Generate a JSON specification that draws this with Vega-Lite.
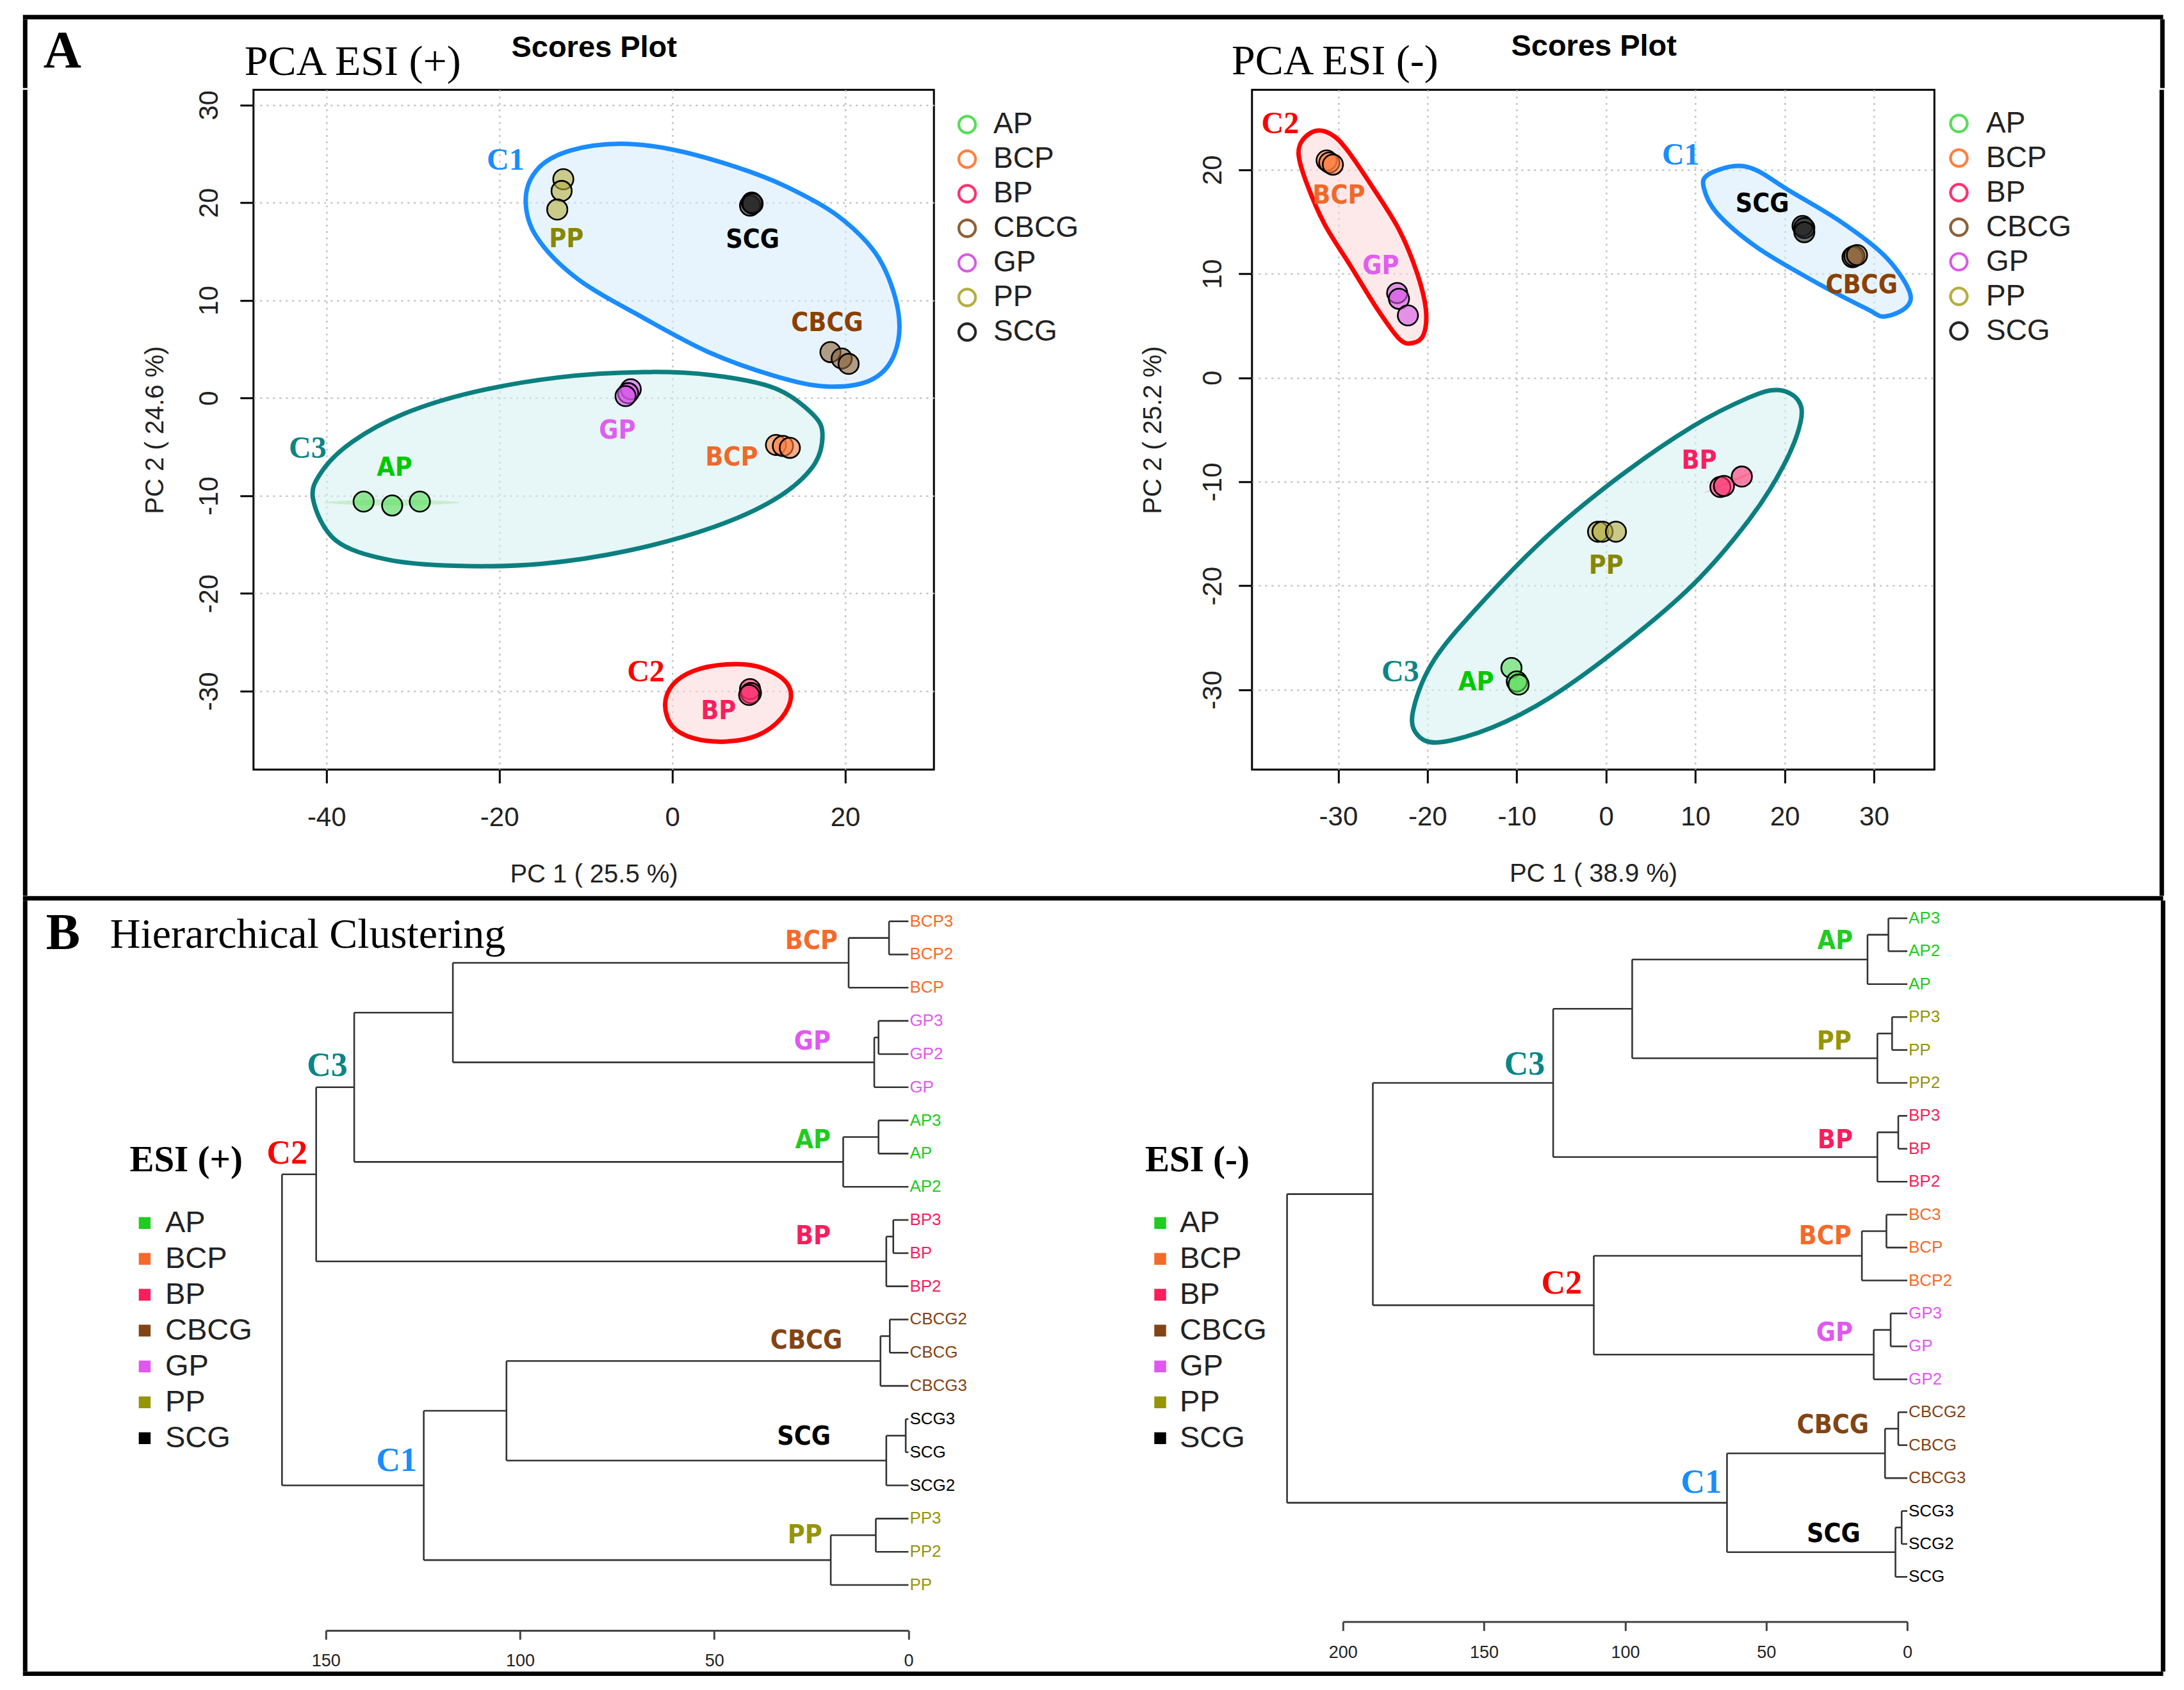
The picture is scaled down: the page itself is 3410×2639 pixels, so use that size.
{
"$schema": "https://vega.github.io/schema/vega-lite/v6.json",
"background": "white",
"padding": {"left": 35.8, "top": 23.3, "right": 0, "bottom": 0},
"spacing": 0,
"resolve": {"scale": {"color": "independent", "fill": "independent", "stroke": "independent"}},
"config": {"view": {"stroke": null}, "font": "Liberation Sans", "axis": {"labelFont": "Liberation Sans", "titleFont": "Liberation Sans"}, "legend": {"labelFont": "Liberation Sans", "titleFont": "Liberation Serif"}, "title": {"font": "Liberation Serif", "color": "black"}},
"datasets": {
"pp_pts": [{"g":"AP","x":-35.7,"y":-10.6},{"g":"AP","x":-32.4,"y":-11.0},{"g":"AP","x":-29.2,"y":-10.6},{"g":"BCP","x":12.0,"y":-4.8},{"g":"BCP","x":12.8,"y":-4.9},{"g":"BCP","x":13.6,"y":-5.1},{"g":"BP","x":9.0,"y":-29.8},{"g":"BP","x":9.1,"y":-30.2},{"g":"BP","x":8.9,"y":-30.4},{"g":"CBCG","x":18.3,"y":4.7},{"g":"CBCG","x":19.6,"y":4.05},{"g":"CBCG","x":20.4,"y":3.5},{"g":"GP","x":-4.8,"y":0.9},{"g":"GP","x":-5.1,"y":0.5},{"g":"GP","x":-5.4,"y":0.2},{"g":"PP","x":-12.6,"y":22.4},{"g":"PP","x":-12.8,"y":21.2},{"g":"PP","x":-13.3,"y":19.3},{"g":"SCG","x":9.0,"y":19.7},{"g":"SCG","x":9.2,"y":20.0},{"g":"SCG","x":9.3,"y":19.9}],
"pp_grp": [{"t":"PP","x":-12.25,"y":16.22},{"t":"SCG","x":9.3,"y":16.16},{"t":"CBCG","x":17.92,"y":7.67},{"t":"GP","x":-6.35,"y":-3.37},{"t":"BCP","x":6.87,"y":-6.11},{"t":"AP","x":-32.13,"y":-7.2},{"t":"BP","x":5.35,"y":-32.1}],
"pp_clu": [{"t":"C1","x":-19.28,"y":24.3},{"t":"C3","x":-42.17,"y":-5.21},{"t":"C2","x":-3.05,"y":-28.1}],
"pp_e1": [{"x":-6.05,"y":26.03},{"x":0.0,"y":25.44},{"x":7.24,"y":23.69},{"x":13.3,"y":21.6},{"x":19.34,"y":18.52},{"x":23.87,"y":14.35},{"x":26.14,"y":8.87},{"x":25.69,"y":4.47},{"x":22.97,"y":1.84},{"x":17.83,"y":1.18},{"x":11.79,"y":2.28},{"x":4.22,"y":4.69},{"x":-3.33,"y":8.21},{"x":-10.9,"y":12.16},{"x":-15.73,"y":16.55},{"x":-16.94,"y":20.5},{"x":-15.43,"y":23.58},{"x":-11.8,"y":25.34}],
"pp_e3": [{"x":-41.54,"y":-10.39},{"x":-40.55,"y":-7.53},{"x":-36.98,"y":-4.47},{"x":-31.02,"y":-1.61},{"x":-23.09,"y":0.58},{"x":-13.17,"y":2.11},{"x":-3.25,"y":2.66},{"x":4.68,"y":2.33},{"x":11.82,"y":1.02},{"x":16.19,"y":-1.61},{"x":17.38,"y":-3.81},{"x":16.19,"y":-7.1},{"x":11.82,"y":-10.39},{"x":4.68,"y":-13.24},{"x":-5.24,"y":-15.65},{"x":-15.16,"y":-16.97},{"x":-25.07,"y":-17.18},{"x":-33.0,"y":-16.53},{"x":-38.96,"y":-14.55}],
"pp_e2": [{"x":-0.83,"y":-31.44},{"x":0.04,"y":-29.36},{"x":2.5,"y":-27.93},{"x":6.21,"y":-27.27},{"x":9.91,"y":-27.49},{"x":12.87,"y":-28.81},{"x":13.74,"y":-30.56},{"x":12.63,"y":-32.76},{"x":9.91,"y":-34.51},{"x":6.21,"y":-35.17},{"x":2.5,"y":-34.84},{"x":0.04,"y":-33.63}],
"pp_ap": [{"x":-40.3,"y":-10.7},{"x":-36.3,"y":-10.45},{"x":-32.4,"y":-10.37},{"x":-28.5,"y":-10.45},{"x":-24.5,"y":-10.7},{"x":-28.5,"y":-10.95},{"x":-32.4,"y":-11.03},{"x":-36.3,"y":-10.95}],
"pm_pts": [{"g":"AP","x":-10.6,"y":-27.9},{"g":"AP","x":-10.0,"y":-29.2},{"g":"AP","x":-9.8,"y":-29.5},{"g":"BCP","x":-31.3,"y":20.9},{"g":"BCP","x":-31.0,"y":20.7},{"g":"BCP","x":-30.6,"y":20.5},{"g":"BP","x":12.8,"y":-10.5},{"g":"BP","x":13.2,"y":-10.4},{"g":"BP","x":15.2,"y":-9.5},{"g":"CBCG","x":27.6,"y":11.6},{"g":"CBCG","x":27.8,"y":11.7},{"g":"CBCG","x":28.1,"y":11.8},{"g":"GP","x":-23.4,"y":8.15},{"g":"GP","x":-23.2,"y":7.6},{"g":"GP","x":-22.2,"y":6.0},{"g":"PP","x":-0.9,"y":-14.8},{"g":"PP","x":-0.4,"y":-14.8},{"g":"PP","x":1.1,"y":-14.8},{"g":"SCG","x":22.0,"y":14.6},{"g":"SCG","x":22.2,"y":14.4},{"g":"SCG","x":22.2,"y":14.0}],
"pm_grp": [{"t":"BCP","x":-29.93,"y":17.49},{"t":"GP","x":-25.24,"y":10.72},{"t":"SCG","x":17.5,"y":16.66},{"t":"CBCG","x":28.62,"y":8.87},{"t":"BP","x":10.42,"y":-8.0},{"t":"PP","x":0.0,"y":-18.12},{"t":"AP","x":-14.56,"y":-29.29}],
"pm_clu": [{"t":"C2","x":-36.5,"y":24.36},{"t":"C1","x":8.36,"y":21.38},{"t":"C3","x":-23.05,"y":-28.35}],
"pm_e2": [{"x":-32.55,"y":23.74},{"x":-34.03,"y":22.82},{"x":-34.43,"y":21.38},{"x":-33.54,"y":18.72},{"x":-31.56,"y":14.82},{"x":-28.59,"y":10.72},{"x":-25.63,"y":6.62},{"x":-23.16,"y":3.74},{"x":-21.68,"y":3.34},{"x":-20.44,"y":4.15},{"x":-20.19,"y":6.62},{"x":-21.18,"y":10.1},{"x":-23.16,"y":14.2},{"x":-26.13,"y":18.3},{"x":-29.09,"y":22.0},{"x":-30.82,"y":23.43}],
"pm_e1": [{"x":14.39,"y":20.36},{"x":11.43,"y":19.54},{"x":10.93,"y":18.31},{"x":12.41,"y":15.85},{"x":16.86,"y":12.57},{"x":23.28,"y":9.28},{"x":29.21,"y":6.62},{"x":31.18,"y":5.9},{"x":33.66,"y":6.82},{"x":33.9,"y":8.46},{"x":31.18,"y":11.74},{"x":26.25,"y":15.03},{"x":20.32,"y":18.1},{"x":16.86,"y":19.95}],
"pm_e3": [{"x":19.23,"y":-1.18},{"x":21.47,"y":-2.12},{"x":21.79,"y":-4.24},{"x":19.86,"y":-8.47},{"x":16.02,"y":-13.65},{"x":9.62,"y":-19.99},{"x":1.61,"y":-25.87},{"x":-6.39,"y":-30.81},{"x":-12.8,"y":-33.64},{"x":-18.57,"y":-35.05},{"x":-21.13,"y":-34.34},{"x":-21.61,"y":-31.99},{"x":-19.2,"y":-27.05},{"x":-13.44,"y":-21.17},{"x":-6.39,"y":-15.06},{"x":1.61,"y":-9.42},{"x":9.62,"y":-4.71},{"x":16.02,"y":-1.89}],
"pm_bp": [{"x":10.9,"y":-11.1},{"x":13.8,"y":-9.9},{"x":16.8,"y":-8.95},{"x":13.9,"y":-10.15}],
"dl_seg": [{"x":5,"x2":5,"y":0,"y2":1},{"x":0,"x2":5,"y":0,"y2":0},{"x":0,"x2":5,"y":1,"y2":1},{"x":15.4,"x2":15.4,"y":0.5,"y2":2},{"x":5,"x2":15.4,"y":0.5,"y2":0.5},{"x":0,"x2":15.4,"y":2,"y2":2},{"x":7.7,"x2":7.7,"y":3,"y2":4},{"x":0,"x2":7.7,"y":3,"y2":3},{"x":0,"x2":7.7,"y":4,"y2":4},{"x":8.8,"x2":8.8,"y":3.5,"y2":5},{"x":7.7,"x2":8.8,"y":3.5,"y2":3.5},{"x":0,"x2":8.8,"y":5,"y2":5},{"x":117.3,"x2":117.3,"y":1.25,"y2":4.25},{"x":15.4,"x2":117.3,"y":1.25,"y2":1.25},{"x":8.8,"x2":117.3,"y":4.25,"y2":4.25},{"x":7.7,"x2":7.7,"y":6,"y2":7},{"x":0,"x2":7.7,"y":6,"y2":6},{"x":0,"x2":7.7,"y":7,"y2":7},{"x":16.8,"x2":16.8,"y":6.5,"y2":8},{"x":7.7,"x2":16.8,"y":6.5,"y2":6.5},{"x":0,"x2":16.8,"y":8,"y2":8},{"x":142.7,"x2":142.7,"y":2.75,"y2":7.25},{"x":117.3,"x2":142.7,"y":2.75,"y2":2.75},{"x":16.8,"x2":142.7,"y":7.25,"y2":7.25},{"x":3.9,"x2":3.9,"y":9,"y2":10},{"x":0,"x2":3.9,"y":9,"y2":9},{"x":0,"x2":3.9,"y":10,"y2":10},{"x":5.7,"x2":5.7,"y":9.5,"y2":11},{"x":3.9,"x2":5.7,"y":9.5,"y2":9.5},{"x":0,"x2":5.7,"y":11,"y2":11},{"x":152.5,"x2":152.5,"y":5,"y2":10.25},{"x":142.7,"x2":152.5,"y":5,"y2":5},{"x":5.7,"x2":152.5,"y":10.25,"y2":10.25},{"x":4.8,"x2":4.8,"y":12,"y2":13},{"x":0,"x2":4.8,"y":12,"y2":12},{"x":0,"x2":4.8,"y":13,"y2":13},{"x":7.2,"x2":7.2,"y":12.5,"y2":14},{"x":4.8,"x2":7.2,"y":12.5,"y2":12.5},{"x":0,"x2":7.2,"y":14,"y2":14},{"x":0.7,"x2":0.7,"y":15,"y2":16},{"x":0,"x2":0.7,"y":15,"y2":15},{"x":0,"x2":0.7,"y":16,"y2":16},{"x":5.7,"x2":5.7,"y":15.5,"y2":17},{"x":0.7,"x2":5.7,"y":15.5,"y2":15.5},{"x":0,"x2":5.7,"y":17,"y2":17},{"x":103.5,"x2":103.5,"y":13.25,"y2":16.25},{"x":7.2,"x2":103.5,"y":13.25,"y2":13.25},{"x":5.7,"x2":103.5,"y":16.25,"y2":16.25},{"x":8.4,"x2":8.4,"y":18,"y2":19},{"x":0,"x2":8.4,"y":18,"y2":18},{"x":0,"x2":8.4,"y":19,"y2":19},{"x":20,"x2":20,"y":18.5,"y2":20},{"x":8.4,"x2":20,"y":18.5,"y2":18.5},{"x":0,"x2":20,"y":20,"y2":20},{"x":124.8,"x2":124.8,"y":14.75,"y2":19.25},{"x":103.5,"x2":124.8,"y":14.75,"y2":14.75},{"x":20,"x2":124.8,"y":19.25,"y2":19.25},{"x":161.3,"x2":161.3,"y":7.625,"y2":17},{"x":152.5,"x2":161.3,"y":7.625,"y2":7.625},{"x":124.8,"x2":161.3,"y":17,"y2":17}],
"dl_leaf": [{"leaf":"BCP3","g":"BCP","x":0,"y":0},{"leaf":"BCP2","g":"BCP","x":0,"y":1},{"leaf":"BCP","g":"BCP","x":0,"y":2},{"leaf":"GP3","g":"GP","x":0,"y":3},{"leaf":"GP2","g":"GP","x":0,"y":4},{"leaf":"GP","g":"GP","x":0,"y":5},{"leaf":"AP3","g":"AP","x":0,"y":6},{"leaf":"AP","g":"AP","x":0,"y":7},{"leaf":"AP2","g":"AP","x":0,"y":8},{"leaf":"BP3","g":"BP","x":0,"y":9},{"leaf":"BP","g":"BP","x":0,"y":10},{"leaf":"BP2","g":"BP","x":0,"y":11},{"leaf":"CBCG2","g":"CBCG","x":0,"y":12},{"leaf":"CBCG","g":"CBCG","x":0,"y":13},{"leaf":"CBCG3","g":"CBCG","x":0,"y":14},{"leaf":"SCG3","g":"SCG","x":0,"y":15},{"leaf":"SCG","g":"SCG","x":0,"y":16},{"leaf":"SCG2","g":"SCG","x":0,"y":17},{"leaf":"PP3","g":"PP","x":0,"y":18},{"leaf":"PP2","g":"PP","x":0,"y":19},{"leaf":"PP","g":"PP","x":0,"y":20}],
"dl_grp": [{"t":"BCP","x":18.2,"y":0.61},{"t":"GP","x":20.0,"y":3.63},{"t":"AP","x":20.0,"y":6.61},{"t":"BP","x":20.0,"y":9.5},{"t":"CBCG","x":17.0,"y":12.65},{"t":"SCG","x":20.0,"y":15.54},{"t":"PP","x":22.2,"y":18.52}],
"dl_clu": [{"t":"C3","x":149.65,"y":4.35},{"t":"C2","x":160.0,"y":7.0},{"t":"C1","x":131.8,"y":16.26}],
"dr_seg": [{"x":6.7,"x2":6.7,"y":0,"y2":1},{"x":0,"x2":6.7,"y":0,"y2":0},{"x":0,"x2":6.7,"y":1,"y2":1},{"x":14.1,"x2":14.1,"y":0.5,"y2":2},{"x":6.7,"x2":14.1,"y":0.5,"y2":0.5},{"x":0,"x2":14.1,"y":2,"y2":2},{"x":5.4,"x2":5.4,"y":3,"y2":4},{"x":0,"x2":5.4,"y":3,"y2":3},{"x":0,"x2":5.4,"y":4,"y2":4},{"x":10.6,"x2":10.6,"y":3.5,"y2":5},{"x":5.4,"x2":10.6,"y":3.5,"y2":3.5},{"x":0,"x2":10.6,"y":5,"y2":5},{"x":97.5,"x2":97.5,"y":1.25,"y2":4.25},{"x":14.1,"x2":97.5,"y":1.25,"y2":1.25},{"x":10.6,"x2":97.5,"y":4.25,"y2":4.25},{"x":3.2,"x2":3.2,"y":6,"y2":7},{"x":0,"x2":3.2,"y":6,"y2":6},{"x":0,"x2":3.2,"y":7,"y2":7},{"x":10.6,"x2":10.6,"y":6.5,"y2":8},{"x":3.2,"x2":10.6,"y":6.5,"y2":6.5},{"x":0,"x2":10.6,"y":8,"y2":8},{"x":125.5,"x2":125.5,"y":2.75,"y2":7.25},{"x":97.5,"x2":125.5,"y":2.75,"y2":2.75},{"x":10.6,"x2":125.5,"y":7.25,"y2":7.25},{"x":7.4,"x2":7.4,"y":9,"y2":10},{"x":0,"x2":7.4,"y":9,"y2":9},{"x":0,"x2":7.4,"y":10,"y2":10},{"x":16.1,"x2":16.1,"y":9.5,"y2":11},{"x":7.4,"x2":16.1,"y":9.5,"y2":9.5},{"x":0,"x2":16.1,"y":11,"y2":11},{"x":5.9,"x2":5.9,"y":12,"y2":13},{"x":0,"x2":5.9,"y":12,"y2":12},{"x":0,"x2":5.9,"y":13,"y2":13},{"x":11.9,"x2":11.9,"y":12.5,"y2":14},{"x":5.9,"x2":11.9,"y":12.5,"y2":12.5},{"x":0,"x2":11.9,"y":14,"y2":14},{"x":111.1,"x2":111.1,"y":10.25,"y2":13.25},{"x":16.1,"x2":111.1,"y":10.25,"y2":10.25},{"x":11.9,"x2":111.1,"y":13.25,"y2":13.25},{"x":189.4,"x2":189.4,"y":5,"y2":11.75},{"x":125.5,"x2":189.4,"y":5,"y2":5},{"x":111.1,"x2":189.4,"y":11.75,"y2":11.75},{"x":3.2,"x2":3.2,"y":15,"y2":16},{"x":0,"x2":3.2,"y":15,"y2":15},{"x":0,"x2":3.2,"y":16,"y2":16},{"x":7.9,"x2":7.9,"y":15.5,"y2":17},{"x":3.2,"x2":7.9,"y":15.5,"y2":15.5},{"x":0,"x2":7.9,"y":17,"y2":17},{"x":2.0,"x2":2.0,"y":18,"y2":19},{"x":0,"x2":2.0,"y":18,"y2":18},{"x":0,"x2":2.0,"y":19,"y2":19},{"x":4.2,"x2":4.2,"y":18.5,"y2":20},{"x":2.0,"x2":4.2,"y":18.5,"y2":18.5},{"x":0,"x2":4.2,"y":20,"y2":20},{"x":63.9,"x2":63.9,"y":16.25,"y2":19.25},{"x":7.9,"x2":63.9,"y":16.25,"y2":16.25},{"x":4.2,"x2":63.9,"y":19.25,"y2":19.25},{"x":219.8,"x2":219.8,"y":8.375,"y2":17.75},{"x":189.4,"x2":219.8,"y":8.375,"y2":8.375},{"x":63.9,"x2":219.8,"y":17.75,"y2":17.75}],
"dr_leaf": [{"leaf":"AP3","g":"AP","x":0,"y":0},{"leaf":"AP2","g":"AP","x":0,"y":1},{"leaf":"AP","g":"AP","x":0,"y":2},{"leaf":"PP3","g":"PP","x":0,"y":3},{"leaf":"PP","g":"PP","x":0,"y":4},{"leaf":"PP2","g":"PP","x":0,"y":5},{"leaf":"BP3","g":"BP","x":0,"y":6},{"leaf":"BP","g":"BP","x":0,"y":7},{"leaf":"BP2","g":"BP","x":0,"y":8},{"leaf":"BC3","g":"BCP","x":0,"y":9},{"leaf":"BCP","g":"BCP","x":0,"y":10},{"leaf":"BCP2","g":"BCP","x":0,"y":11},{"leaf":"GP3","g":"GP","x":0,"y":12},{"leaf":"GP","g":"GP","x":0,"y":13},{"leaf":"GP2","g":"GP","x":0,"y":14},{"leaf":"CBCG2","g":"CBCG","x":0,"y":15},{"leaf":"CBCG","g":"CBCG","x":0,"y":16},{"leaf":"CBCG3","g":"CBCG","x":0,"y":17},{"leaf":"SCG3","g":"SCG","x":0,"y":18},{"leaf":"SCG2","g":"SCG","x":0,"y":19},{"leaf":"SCG","g":"SCG","x":0,"y":20}],
"dr_grp": [{"t":"AP","x":19.3,"y":0.71},{"t":"PP","x":19.8,"y":3.75},{"t":"BP","x":19.3,"y":6.75},{"t":"BCP","x":19.8,"y":9.67},{"t":"GP","x":19.3,"y":12.61},{"t":"CBCG","x":13.6,"y":15.4},{"t":"SCG","x":16.6,"y":18.7}],
"dr_clu": [{"t":"C3","x":135.6,"y":4.43},{"t":"C2","x":122.5,"y":11.09},{"t":"C1","x":73.0,"y":17.13}]
},
"vconcat": [
{"width": 3341.7, "height": 7, "data": {"values": []}, "mark": {"type": "point", "size": 0, "opacity": 0}, "view": {"fill": "black", "stroke": null}},
{"spacing": 0, "bounds": "flush", "hconcat": [
 {"width": 7, "height": 107.2, "data": {"values": []}, "mark": {"type": "point", "size": 0, "opacity": 0}, "view": {"fill": "black", "stroke": null}},
 {"width": 352.9, "height": 1, "data": {"values": []}, "mark": {"type": "point", "size": 0, "opacity": 0}, "title": {"text": "A", "anchor": "start", "frame": "group", "orient": "top", "offset": -156.7, "dx": 25, "baseline": "alphabetic", "font": "Liberation Serif", "fontSize": 82, "fontWeight": "bold", "color": "black"}},
 {"width": 384.3, "height": 1, "data": {"values": []}, "mark": {"type": "point", "size": 0, "opacity": 0}, "title": {"text": "PCA ESI (+)", "anchor": "start", "frame": "group", "orient": "top", "offset": -153, "dx": -14, "baseline": "alphabetic", "font": "Liberation Serif", "fontSize": 66, "fontWeight": "normal", "color": "black"}},
 {"width": 293.8, "height": 1, "data": {"values": []}, "mark": {"type": "point", "size": 0, "opacity": 0}, "title": {"text": "Scores Plot", "anchor": "middle", "frame": "group", "orient": "top", "offset": -105.7, "baseline": "alphabetic", "font": "Liberation Sans", "fontSize": 47, "fontWeight": "bold", "color": "black"}},
 {"width": 384.3, "height": 1, "data": {"values": []}, "mark": {"type": "point", "size": 0, "opacity": 0}},
 {"width": 496, "height": 1, "data": {"values": []}, "mark": {"type": "point", "size": 0, "opacity": 0}},
 {"width": 445.9, "height": 1, "data": {"values": []}, "mark": {"type": "point", "size": 0, "opacity": 0}, "title": {"text": "PCA ESI (-)", "anchor": "start", "frame": "group", "orient": "top", "offset": -151.8, "dx": -32.7, "baseline": "alphabetic", "font": "Liberation Serif", "fontSize": 66, "fontWeight": "normal", "color": "black"}},
 {"width": 173.8, "height": 1, "data": {"values": []}, "mark": {"type": "point", "size": 0, "opacity": 0}, "title": {"text": "Scores Plot", "anchor": "middle", "frame": "group", "orient": "top", "offset": -103.3, "baseline": "alphabetic", "font": "Liberation Sans", "fontSize": 47, "fontWeight": "bold", "color": "black"}},
 {"width": 445.8, "height": 1, "data": {"values": []}, "mark": {"type": "point", "size": 0, "opacity": 0}},
 {"width": 350.9, "height": 1, "data": {"values": []}, "mark": {"type": "point", "size": 0, "opacity": 0}},
 {"width": 7, "height": 107.2, "data": {"values": []}, "mark": {"type": "point", "size": 0, "opacity": 0}, "view": {"fill": "black", "stroke": null}}
]},
{"spacing": 0, "bounds": "flush", "resolve": {"scale": {"color": "independent", "fill": "independent", "stroke": "independent"}}, "hconcat": [
 {"width": 7, "height": 1258.5, "data": {"values": []}, "mark": {"type": "point", "size": 0, "opacity": 0}, "view": {"fill": "black", "stroke": null}},
 {"width": 352.9, "height": 1, "data": {"values": []}, "mark": {"type": "point", "size": 0, "opacity": 0}},
 {"width": 1062.4, "height": 1061.5, "view": {"stroke": "black", "strokeWidth": 3},
  "encoding": {
   "x": {"field": "x", "type": "quantitative", "scale": {"domain": [-48.44, 30.27], "nice": false, "zero": false}, "axis": {"values": [-40,-20,0,20], "title": "PC 1 ( 25.5 %)", "domain": false, "grid": true, "gridColor": "#c4c4c4", "gridDash": [3,7], "gridWidth": 2.5, "ticks": true, "tickSize": 21, "tickWidth": 3, "tickColor": "black", "labels": true, "labelFontSize": 42, "labelColor": "#222222", "labelPadding": 34, "labelFlush": false, "labelOverlap": false, "labelExpr": "datum.value < 0 ? '-' + abs(datum.value) : '' + datum.value", "titleFontSize": 40, "titleFontWeight": "normal", "titleColor": "#222222", "titlePadding": 48}},
   "y": {"field": "y", "type": "quantitative", "scale": {"domain": [-38.04, 31.55], "nice": false, "zero": false}, "axis": {"values": [-30,-20,-10,0,10,20,30], "title": "PC 2 ( 24.6 %)", "domain": false, "grid": true, "gridColor": "#c4c4c4", "gridDash": [3,7], "gridWidth": 2.5, "ticks": true, "tickSize": 21, "tickWidth": 3, "tickColor": "black", "labels": true, "labelFontSize": 42, "labelColor": "#222222", "labelAngle": -90, "labelAlign": "center", "labelBaseline": "bottom", "labelPadding": 26, "labelFlush": false, "labelOverlap": false, "labelExpr": "datum.value < 0 ? '-' + abs(datum.value) : '' + datum.value", "titleFontSize": 40, "titleFontWeight": "normal", "titleColor": "#222222", "titlePadding": 43}}
  },
  "layer": [
   {"data": {"name": "pp_e3"}, "mark": {"type": "line", "interpolate": "cardinal-closed", "stroke": "#0b7f7f", "strokeWidth": 7, "fill": "#d4eeee", "fillOpacity": 0.55}, "encoding": {"order": {"value": null}}},
   {"data": {"name": "pp_e1"}, "mark": {"type": "line", "interpolate": "cardinal-closed", "stroke": "#1a8cff", "strokeWidth": 7, "fill": "#d6ebfb", "fillOpacity": 0.55}, "encoding": {"order": {"value": null}}},
   {"data": {"name": "pp_e2"}, "mark": {"type": "line", "interpolate": "cardinal-closed", "stroke": "#ff0000", "strokeWidth": 7, "fill": "#fbd7d7", "fillOpacity": 0.55}, "encoding": {"order": {"value": null}}},
   {"data": {"name": "pp_ap"}, "mark": {"type": "line", "interpolate": "cardinal-closed", "strokeWidth": 0, "stroke": "#b8ebb8", "fill": "#b8ebb8", "fillOpacity": 0.7}, "encoding": {"order": {"value": null}}},
   {"data": {"name": "pp_pts"}, "mark": {"type": "point", "shape": "circle", "filled": false, "size": 0, "opacity": 1, "strokeWidth": 0.8},
    "encoding": {"stroke": {"field": "g", "type": "nominal", "scale": {"domain": ["AP","BCP","BP","CBCG","GP","PP","SCG"], "range": ["#55dd55","#ff7f40","#ff3070","#8b6035","#ee77ee","#b5ad40","#333333"]}, "legend": {"title": null, "orient": "none", "legendX": 1091.3, "legendY": 31.2, "padding": 0, "symbolType": "M-1,0A1,1,0,1,1,1,0A1,1,0,1,1,-1,0ZM-0.76,0A0.76,0.76,0,1,0,0.76,0A0.76,0.76,0,1,0,-0.76,0Z", "symbolSize": 880, "symbolStrokeWidth": 0.8, "labelFontSize": 46, "labelColor": "#222222", "labelOffset": 18, "rowPadding": 8}}}},
   {"data": {"name": "pp_pts"}, "mark": {"type": "point", "shape": "circle", "filled": true, "size": 1000, "opacity": 1, "fillOpacity": 0.6, "stroke": "black", "strokeWidth": 2.6, "strokeOpacity": 1},
    "encoding": {"fill": {"field": "g", "type": "nominal", "scale": {"domain": ["AP","BCP","BP","CBCG","GP","PP","SCG"], "range": ["#55dd55","#ff7f40","#ff3070","#8b6035","#d455e6","#b5ad40","#222222"]}, "legend": null}}},
   {"data": {"name": "pp_grp"}, "mark": {"type": "text", "font": "Liberation Sans Narrow, DejaVu Sans Condensed, sans-serif", "fontSize": 41, "fontWeight": "bold", "align": "center", "baseline": "middle"},
    "encoding": {"text": {"field": "t"}, "color": {"field": "t", "type": "nominal", "scale": {"domain": ["AP","BCP","BP","CBCG","GP","PP","SCG","C1","C2","C3"], "range": ["#00c800","#f0692a","#fa1e5f","#8b4000","#df5ef0","#878700","#000000","#1a8cff","#ff0000","#0b8585"]}, "legend": null}}},
   {"data": {"name": "pp_clu"}, "mark": {"type": "text", "font": "Liberation Serif", "fontSize": 48, "fontWeight": "bold", "align": "center", "baseline": "middle"},
    "encoding": {"text": {"field": "t"}, "color": {"field": "t", "type": "nominal", "scale": {"domain": ["AP","BCP","BP","CBCG","GP","PP","SCG","C1","C2","C3"], "range": ["#00c800","#f0692a","#fa1e5f","#8b4000","#df5ef0","#878700","#000000","#1a8cff","#ff0000","#0b8585"]}, "legend": null}}}
  ]},
 {"width": 496, "height": 1, "data": {"values": []}, "mark": {"type": "point", "size": 0, "opacity": 0}},
 {"width": 1065.5, "height": 1061.5, "view": {"stroke": "black", "strokeWidth": 3},
  "encoding": {
   "x": {"field": "x", "type": "quantitative", "scale": {"domain": [-39.66, 36.77], "nice": false, "zero": false}, "axis": {"values": [-30,-20,-10,0,10,20,30], "title": "PC 1 ( 38.9 %)", "domain": false, "grid": true, "gridColor": "#c4c4c4", "gridDash": [3,7], "gridWidth": 2.5, "ticks": true, "tickSize": 21, "tickWidth": 3, "tickColor": "black", "labels": true, "labelFontSize": 42, "labelColor": "#222222", "labelPadding": 33, "labelFlush": false, "labelOverlap": false, "labelExpr": "datum.value < 0 ? '-' + abs(datum.value) : '' + datum.value", "titleFontSize": 40, "titleFontWeight": "normal", "titleColor": "#222222", "titlePadding": 48}},
   "y": {"field": "y", "type": "quantitative", "scale": {"domain": [-37.68, 27.69], "nice": false, "zero": false}, "axis": {"values": [-30,-20,-10,0,10,20], "title": "PC 2 ( 25.2 %)", "domain": false, "grid": true, "gridColor": "#c4c4c4", "gridDash": [3,7], "gridWidth": 2.5, "ticks": true, "tickSize": 21, "tickWidth": 3, "tickColor": "black", "labels": true, "labelFontSize": 42, "labelColor": "#222222", "labelAngle": -90, "labelAlign": "center", "labelBaseline": "bottom", "labelPadding": 18, "labelFlush": false, "labelOverlap": false, "labelExpr": "datum.value < 0 ? '-' + abs(datum.value) : '' + datum.value", "titleFontSize": 40, "titleFontWeight": "normal", "titleColor": "#222222", "titlePadding": 52}}
  },
  "layer": [
   {"data": {"name": "pm_e3"}, "mark": {"type": "line", "interpolate": "cardinal-closed", "stroke": "#0b7f7f", "strokeWidth": 7, "fill": "#d4eeee", "fillOpacity": 0.55}, "encoding": {"order": {"value": null}}},
   {"data": {"name": "pm_e1"}, "mark": {"type": "line", "interpolate": "cardinal-closed", "stroke": "#1a8cff", "strokeWidth": 7, "fill": "#d6ebfb", "fillOpacity": 0.55}, "encoding": {"order": {"value": null}}},
   {"data": {"name": "pm_e2"}, "mark": {"type": "line", "interpolate": "cardinal-closed", "stroke": "#ff0000", "strokeWidth": 7, "fill": "#fbd7d7", "fillOpacity": 0.55}, "encoding": {"order": {"value": null}}},
   {"data": {"name": "pm_bp"}, "mark": {"type": "line", "interpolate": "cardinal-closed", "strokeWidth": 0, "stroke": "#f7a8c0", "fill": "#f7a8c0", "fillOpacity": 0.7}, "encoding": {"order": {"value": null}}},
   {"data": {"name": "pm_pts"}, "mark": {"type": "point", "shape": "circle", "filled": false, "size": 0, "opacity": 1, "strokeWidth": 0.8},
    "encoding": {"stroke": {"field": "g", "type": "nominal", "scale": {"domain": ["AP","BCP","BP","CBCG","GP","PP","SCG"], "range": ["#55dd55","#ff7f40","#ff3070","#8b6035","#ee77ee","#b5ad40","#333333"]}, "legend": {"title": null, "orient": "none", "legendX": 1080.7, "legendY": 29.5, "padding": 0, "symbolType": "M-1,0A1,1,0,1,1,1,0A1,1,0,1,1,-1,0ZM-0.76,0A0.76,0.76,0,1,0,0.76,0A0.76,0.76,0,1,0,-0.76,0Z", "symbolSize": 880, "symbolStrokeWidth": 0.8, "labelFontSize": 46, "labelColor": "#222222", "labelOffset": 19.6, "rowPadding": 8}}}},
   {"data": {"name": "pm_pts"}, "mark": {"type": "point", "shape": "circle", "filled": true, "size": 1000, "opacity": 1, "fillOpacity": 0.6, "stroke": "black", "strokeWidth": 2.6, "strokeOpacity": 1},
    "encoding": {"fill": {"field": "g", "type": "nominal", "scale": {"domain": ["AP","BCP","BP","CBCG","GP","PP","SCG"], "range": ["#55dd55","#ff7f40","#ff3070","#8b6035","#d455e6","#b5ad40","#222222"]}, "legend": null}}},
   {"data": {"name": "pm_grp"}, "mark": {"type": "text", "font": "Liberation Sans Narrow, DejaVu Sans Condensed, sans-serif", "fontSize": 41, "fontWeight": "bold", "align": "center", "baseline": "middle"},
    "encoding": {"text": {"field": "t"}, "color": {"field": "t", "type": "nominal", "scale": {"domain": ["AP","BCP","BP","CBCG","GP","PP","SCG","C1","C2","C3"], "range": ["#00c800","#f0692a","#fa1e5f","#8b4000","#df5ef0","#878700","#000000","#1a8cff","#ff0000","#0b8585"]}, "legend": null}}},
   {"data": {"name": "pm_clu"}, "mark": {"type": "text", "font": "Liberation Serif", "fontSize": 48, "fontWeight": "bold", "align": "center", "baseline": "middle"},
    "encoding": {"text": {"field": "t"}, "color": {"field": "t", "type": "nominal", "scale": {"domain": ["AP","BCP","BP","CBCG","GP","PP","SCG","C1","C2","C3"], "range": ["#00c800","#f0692a","#fa1e5f","#8b4000","#df5ef0","#878700","#000000","#1a8cff","#ff0000","#0b8585"]}, "legend": null}}}
  ]},
 {"width": 350.9, "height": 1, "data": {"values": []}, "mark": {"type": "point", "size": 0, "opacity": 0}},
 {"width": 7, "height": 1258.5, "data": {"values": []}, "mark": {"type": "point", "size": 0, "opacity": 0}, "view": {"fill": "black", "stroke": null}}
]},
{"width": 3341.7, "height": 7, "data": {"values": []}, "mark": {"type": "point", "size": 0, "opacity": 0}, "view": {"fill": "black", "stroke": null}},
{"spacing": 0, "bounds": "flush", "resolve": {"scale": {"color": "independent", "fill": "independent", "stroke": "independent"}}, "hconcat": [
 {"width": 7, "height": 1204, "data": {"values": []}, "mark": {"type": "point", "size": 0, "opacity": 0}, "view": {"fill": "black", "stroke": null}},
 {"width": 129.2, "height": 1, "data": {"values": []}, "mark": {"type": "point", "size": 0, "opacity": 0}, "title": {"text": "B", "anchor": "start", "frame": "group", "orient": "top", "offset": -155.3, "dx": 29, "baseline": "alphabetic", "font": "Liberation Serif", "fontSize": 80, "fontWeight": "bold", "color": "black"}},
 {"width": 335.4, "height": 1, "data": {"values": []}, "mark": {"type": "point", "size": 0, "opacity": 0}, "title": {"text": "Hierarchical Clustering", "anchor": "start", "frame": "group", "orient": "top", "offset": -139.7, "dx": -1, "baseline": "alphabetic", "font": "Liberation Serif", "fontSize": 66, "fontWeight": "normal", "color": "black"}},
 {"width": 909.6, "height": 1139.7,
  "encoding": {
   "x": {"field": "x", "type": "quantitative", "scale": {"domain": [150, 0], "nice": false, "zero": false}, "axis": {"values": [0,50,100,150], "title": null, "grid": false, "domain": true, "domainColor": "#444444", "domainWidth": 3, "ticks": true, "tickSize": 14, "tickWidth": 3, "tickColor": "#444444", "labels": true, "labelFont": "Liberation Sans Narrow, Liberation Sans", "labelFontSize": 27, "labelColor": "#222222", "labelPadding": 21, "labelFlush": false, "labelOverlap": false}},
   "y": {"field": "y", "type": "quantitative", "scale": {"domain": [21.37, -0.625], "nice": false, "zero": false}, "axis": null}
  },
  "layer": [
   {"data": {"name": "dl_seg"}, "mark": {"type": "rule", "color": "#333333", "strokeWidth": 2.6}, "encoding": {"x2": {"field": "x2"}, "y2": {"field": "y2"}}},
   {"data": {"name": "dl_leaf"}, "mark": {"type": "text", "align": "left", "baseline": "middle", "dx": 2, "fontSize": 26, "font": "Liberation Sans"},
    "encoding": {"text": {"field": "leaf"},
     "color": {"field": "g", "type": "nominal", "scale": {"domain": ["AP","BCP","BP","CBCG","GP","PP","SCG","C1","C2","C3"], "range": ["#1fcc1f","#f56a2a","#fa1e5c","#834414","#e058f0","#959505","#000000","#1a8cff","#ff0000","#0b8585"]}, "legend": {"title": "ESI (+)", "values": ["AP","BCP","BP","CBCG","GP","PP","SCG"], "orient": "none", "legendX": -306.4, "legendY": 378, "padding": 0, "symbolType": "square", "symbolSize": 340, "symbolStrokeWidth": 0, "titleFont": "Liberation Serif", "titleFontSize": 57, "titleFontWeight": "bold", "titleColor": "black", "titlePadding": 45, "labelFontSize": 47, "labelColor": "#222222", "labelOffset": 8.6, "rowPadding": 8}}}},
   {"data": {"name": "dl_grp"}, "mark": {"type": "text", "font": "Liberation Sans Narrow, DejaVu Sans Condensed, sans-serif", "fontSize": 41, "fontWeight": "bold", "align": "right", "baseline": "middle"},
    "encoding": {"text": {"field": "t"}, "color": {"field": "t", "type": "nominal", "scale": {"domain": ["AP","BCP","BP","CBCG","GP","PP","SCG","C1","C2","C3"], "range": ["#1fcc1f","#f56a2a","#fa1e5c","#834414","#e058f0","#959505","#000000","#1a8cff","#ff0000","#0b8585"]}, "legend": null}}},
   {"data": {"name": "dl_clu"}, "mark": {"type": "text", "font": "Liberation Serif", "fontSize": 52, "fontWeight": "bold", "align": "center", "baseline": "middle"},
    "encoding": {"text": {"field": "t"}, "color": {"field": "t", "type": "nominal", "scale": {"domain": ["AP","BCP","BP","CBCG","GP","PP","SCG","C1","C2","C3"], "range": ["#1fcc1f","#f56a2a","#fa1e5c","#834414","#e058f0","#959505","#000000","#1a8cff","#ff0000","#0b8585"]}, "legend": null}}}
  ]},
 {"width": 677.8, "height": 1, "data": {"values": []}, "mark": {"type": "point", "size": 0, "opacity": 0}},
 {"width": 881.2, "height": 1126,
  "encoding": {
   "x": {"field": "x", "type": "quantitative", "scale": {"domain": [200, 0], "nice": false, "zero": false}, "axis": {"values": [0,50,100,150,200], "title": null, "grid": false, "domain": true, "domainColor": "#444444", "domainWidth": 3, "ticks": true, "tickSize": 14, "tickWidth": 3, "tickColor": "#444444", "labels": true, "labelFont": "Liberation Sans Narrow, Liberation Sans", "labelFontSize": 27, "labelColor": "#222222", "labelPadding": 21, "labelFlush": false, "labelOverlap": false}},
   "y": {"field": "y", "type": "quantitative", "scale": {"domain": [21.36, -0.537], "nice": false, "zero": false}, "axis": null}
  },
  "layer": [
   {"data": {"name": "dr_seg"}, "mark": {"type": "rule", "color": "#333333", "strokeWidth": 2.6}, "encoding": {"x2": {"field": "x2"}, "y2": {"field": "y2"}}},
   {"data": {"name": "dr_leaf"}, "mark": {"type": "text", "align": "left", "baseline": "middle", "dx": 2, "fontSize": 26, "font": "Liberation Sans"},
    "encoding": {"text": {"field": "leaf"},
     "color": {"field": "g", "type": "nominal", "scale": {"domain": ["AP","BCP","BP","CBCG","GP","PP","SCG","C1","C2","C3"], "range": ["#1fcc1f","#f56a2a","#fa1e5c","#834414","#e058f0","#959505","#000000","#1a8cff","#ff0000","#0b8585"]}, "legend": {"title": "ESI (-)", "values": ["AP","BCP","BP","CBCG","GP","PP","SCG"], "orient": "none", "legendX": -308.8, "legendY": 378, "padding": 0, "symbolType": "square", "symbolSize": 340, "symbolStrokeWidth": 0, "titleFont": "Liberation Serif", "titleFontSize": 57, "titleFontWeight": "bold", "titleColor": "black", "titlePadding": 45, "labelFontSize": 47, "labelColor": "#222222", "labelOffset": 7, "rowPadding": 8}}}},
   {"data": {"name": "dr_grp"}, "mark": {"type": "text", "font": "Liberation Sans Narrow, DejaVu Sans Condensed, sans-serif", "fontSize": 41, "fontWeight": "bold", "align": "right", "baseline": "middle"},
    "encoding": {"text": {"field": "t"}, "color": {"field": "t", "type": "nominal", "scale": {"domain": ["AP","BCP","BP","CBCG","GP","PP","SCG","C1","C2","C3"], "range": ["#1fcc1f","#f56a2a","#fa1e5c","#834414","#e058f0","#959505","#000000","#1a8cff","#ff0000","#0b8585"]}, "legend": null}}},
   {"data": {"name": "dr_clu"}, "mark": {"type": "text", "font": "Liberation Serif", "fontSize": 52, "fontWeight": "bold", "align": "center", "baseline": "middle"},
    "encoding": {"text": {"field": "t"}, "color": {"field": "t", "type": "nominal", "scale": {"domain": ["AP","BCP","BP","CBCG","GP","PP","SCG","C1","C2","C3"], "range": ["#1fcc1f","#f56a2a","#fa1e5c","#834414","#e058f0","#959505","#000000","#1a8cff","#ff0000","#0b8585"]}, "legend": null}}}
  ]},
 {"width": 394.5, "height": 1, "data": {"values": []}, "mark": {"type": "point", "size": 0, "opacity": 0}},
 {"width": 7, "height": 1204, "data": {"values": []}, "mark": {"type": "point", "size": 0, "opacity": 0}, "view": {"fill": "black", "stroke": null}}
]},
{"width": 3341.7, "height": 7, "data": {"values": []}, "mark": {"type": "point", "size": 0, "opacity": 0}, "view": {"fill": "black", "stroke": null}}
]
}
